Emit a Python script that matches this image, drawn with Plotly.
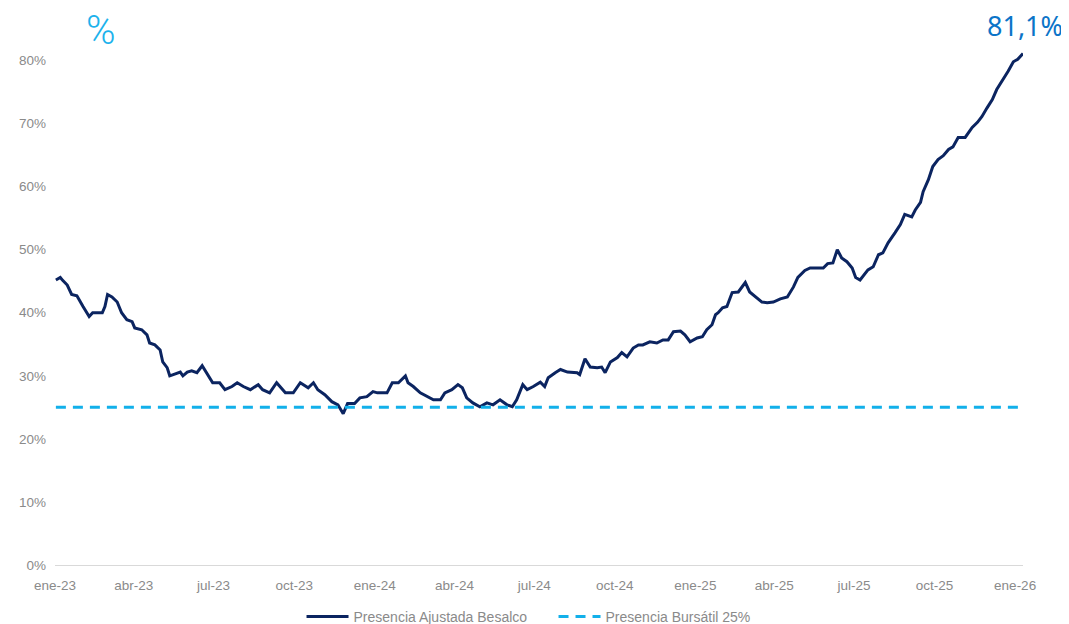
import plotly.graph_objects as go

# ---------------- data ----------------
dates = [
    "2023-01-02", "2023-01-07", "2023-01-10", "2023-01-15", "2023-01-20", "2023-01-26",
    "2023-02-02", "2023-02-09", "2023-02-13", "2023-02-24", "2023-02-27", "2023-03-02",
    "2023-03-07", "2023-03-13", "2023-03-18", "2023-03-24", "2023-03-30", "2023-04-02",
    "2023-04-10", "2023-04-16", "2023-04-19", "2023-04-25", "2023-05-01", "2023-05-04",
    "2023-05-09", "2023-05-12", "2023-05-16", "2023-05-24", "2023-05-27", "2023-06-01",
    "2023-06-06", "2023-06-12", "2023-06-18", "2023-06-24", "2023-06-30", "2023-07-08",
    "2023-07-14", "2023-07-22", "2023-07-28", "2023-08-04", "2023-08-12", "2023-08-21",
    "2023-08-26", "2023-09-03", "2023-09-11", "2023-09-21", "2023-09-30", "2023-10-08",
    "2023-10-17", "2023-10-23", "2023-10-28", "2023-11-05", "2023-11-13", "2023-11-20",
    "2023-11-26", "2023-12-01", "2023-12-09", "2023-12-15", "2023-12-23", "2023-12-30",
    "2024-01-04", "2024-01-15", "2024-01-21", "2024-01-28", "2024-02-05", "2024-02-08",
    "2024-02-14", "2024-02-22", "2024-03-01", "2024-03-08", "2024-03-16", "2024-03-21",
    "2024-03-29", "2024-04-05", "2024-04-10", "2024-04-15", "2024-04-22", "2024-04-30",
    "2024-05-08", "2024-05-15", "2024-05-23", "2024-05-31", "2024-06-06", "2024-06-11",
    "2024-06-18", "2024-06-23", "2024-06-30", "2024-07-08", "2024-07-13", "2024-07-17",
    "2024-07-25", "2024-07-31", "2024-08-08", "2024-08-19", "2024-08-22", "2024-08-28",
    "2024-09-03", "2024-09-11", "2024-09-16", "2024-09-20", "2024-09-26", "2024-10-04",
    "2024-10-09", "2024-10-15", "2024-10-22", "2024-10-28", "2024-11-02", "2024-11-10",
    "2024-11-18", "2024-11-25", "2024-12-01", "2024-12-07", "2024-12-15", "2024-12-20",
    "2024-12-26", "2025-01-03", "2025-01-09", "2025-01-14", "2025-01-20", "2025-01-24",
    "2025-01-27", "2025-02-01", "2025-02-06", "2025-02-12", "2025-02-19", "2025-02-27",
    "2025-03-04", "2025-03-12", "2025-03-18", "2025-03-24", "2025-03-31", "2025-04-08",
    "2025-04-16", "2025-04-23", "2025-04-28", "2025-05-06", "2025-05-12", "2025-05-27",
    "2025-06-01", "2025-06-07", "2025-06-12", "2025-06-17", "2025-06-23", "2025-06-29",
    "2025-07-03", "2025-07-08", "2025-07-11", "2025-07-17", "2025-07-23", "2025-07-29",
    "2025-08-03", "2025-08-09", "2025-08-17", "2025-08-23", "2025-08-28", "2025-09-05",
    "2025-09-09", "2025-09-15", "2025-09-18", "2025-09-24", "2025-09-29", "2025-10-05",
    "2025-10-11", "2025-10-17", "2025-10-22", "2025-10-28", "2025-11-05", "2025-11-13",
    "2025-11-19", "2025-11-24", "2025-11-30", "2025-12-06", "2025-12-11", "2025-12-17",
    "2025-12-24", "2025-12-30", "2026-01-04", "2026-01-10",
]

presencia_besalco = [
    45.2, 45.6, 45.1, 44.4, 42.9, 42.7,
    41.0, 39.4, 40.0, 40.0, 41.0, 42.9,
    42.5, 41.7, 40.0, 38.9, 38.6, 37.6,
    37.3, 36.5, 35.2, 34.9, 34.1, 32.2,
    31.3, 30.0, 30.2, 30.6, 30.0, 30.6,
    30.8, 30.5, 31.6, 30.2, 28.9, 28.9,
    27.8, 28.3, 28.9, 28.3, 27.8, 28.6,
    27.8, 27.3, 28.9, 27.3, 27.3, 28.9,
    28.1, 28.9, 27.8, 27.0, 25.9, 25.4,
    24.0, 25.6, 25.6, 26.5, 26.7, 27.5,
    27.3, 27.3, 28.9, 28.9, 30.0, 28.9,
    28.3, 27.3, 26.7, 26.2, 26.2, 27.3,
    27.8, 28.6, 28.1, 26.5, 25.7, 25.1,
    25.7, 25.4, 26.2, 25.4, 25.1, 26.2,
    28.6, 27.8, 28.3, 29.0, 28.3, 29.7,
    30.5, 31.0, 30.6, 30.5, 30.2, 32.7,
    31.4, 31.3, 31.4, 30.5, 32.2, 32.9,
    33.7, 33.0, 34.4, 34.9, 34.9, 35.4,
    35.2, 35.7, 35.7, 37.0, 37.1, 36.5,
    35.4, 36.0, 36.2, 37.3, 38.1, 39.7,
    40.0, 40.8, 41.0, 43.2, 43.3, 44.8,
    43.3, 42.4, 41.7, 41.6, 41.7, 42.2,
    42.5, 44.1, 45.6, 46.7, 47.1, 47.1,
    47.8, 47.9, 50.0, 48.7, 48.1, 47.1,
    45.6, 45.2, 45.7, 46.8, 47.3, 49.2,
    49.5, 51.1, 52.7, 54.0, 55.6, 55.2,
    56.3, 57.5, 59.2, 61.1, 63.2, 64.3,
    64.9, 65.9, 66.3, 67.8, 67.8, 69.4,
    70.2, 71.1, 72.5, 73.8, 75.4, 76.7,
    78.3, 79.8, 80.2, 81.1,
]

benchmark_dates = [dates[0], dates[-1]]
presencia_bursatil = [25.0, 25.0]

tick_dates = ["2023-01-01", "2023-04-01", "2023-07-01", "2023-10-01",
              "2024-01-01", "2024-04-01", "2024-07-01", "2024-10-01",
              "2025-01-01", "2025-04-01", "2025-07-01", "2025-10-01",
              "2026-01-01"]
tick_labels = ["ene-23", "abr-23", "jul-23", "oct-23",
               "ene-24", "abr-24", "jul-24", "oct-24",
               "ene-25", "abr-25", "jul-25", "oct-25",
               "ene-26"]
y_ticks = [0, 10, 20, 30, 40, 50, 60, 70, 80]
y_tick_labels = ["0%", "10%", "20%", "30%", "40%", "50%", "60%", "70%", "80%"]

last_label = "81,1%"

# ---------------- figure ----------------
NAVY = "#0b2460"
CYAN = "#12b0ea"
GREY = "#8a8a8a"
FONT = "Liberation Sans, Arial, sans-serif"

fig = go.Figure()
fig.add_trace(go.Scatter(
    x=dates, y=presencia_besalco, mode="lines",
    name="Presencia Ajustada Besalco",
    line=dict(color=NAVY, width=3),
))
fig.add_trace(go.Scatter(
    x=benchmark_dates, y=presencia_bursatil, mode="lines",
    name="Presencia Bursátil 25%",
    line=dict(color=CYAN, width=3, dash="10px,7px"),
))

# page body has an 8px default margin, so the figure is shrunk by 8px
fig.update_layout(
    width=1061, height=616,
    paper_bgcolor="white", plot_bgcolor="white",
    margin=dict(l=47, r=46, t=21, b=59, autoexpand=False),
    font=dict(family=FONT, color=GREY, size=13.5),
    showlegend=True,
    legend=dict(
        orientation="h", x=0.515, xanchor="center",
        y=-0.097, yanchor="middle",
        font=dict(size=14, color=GREY),
        itemwidth=42,
        entrywidth=195, entrywidthmode="pixels",
        bgcolor="rgba(0,0,0,0)",
    ),
    xaxis=dict(
        type="date",
        range=["2023-01-01", "2026-01-10"],
        tickvals=tick_dates, ticktext=tick_labels,
        showgrid=False, zeroline=False,
        showline=True, linecolor="#d9d9d9", linewidth=1,
        ticks="", ticklabelstandoff=8, automargin=False,
        tickfont=dict(size=13.5, color=GREY),
    ),
    yaxis=dict(
        range=[0, 85],
        tickvals=y_ticks, ticktext=y_tick_labels,
        showgrid=False, zeroline=False, showline=False,
        ticks="", ticklabelstandoff=8, automargin=False,
        tickfont=dict(size=13.5, color=GREY),
    ),
    annotations=[
        dict(text="%", xref="paper", yref="paper", x=(101 - 55) / 968, y=1.0,
             xanchor="center", yanchor="middle", yshift=-1, showarrow=False,
             font=dict(family="Roboto, sans-serif", size=40, color="#1cb2ec", weight=300)),
        dict(text=last_label, xref="paper", yref="paper", x=1.0, y=1.0,
             xanchor="center", yanchor="middle", xshift=2, yshift=4, showarrow=False,
             font=dict(family="Noto Sans, sans-serif", size=27, color="#0b74c8")),
    ],
)

fig.write_html("out.html")
